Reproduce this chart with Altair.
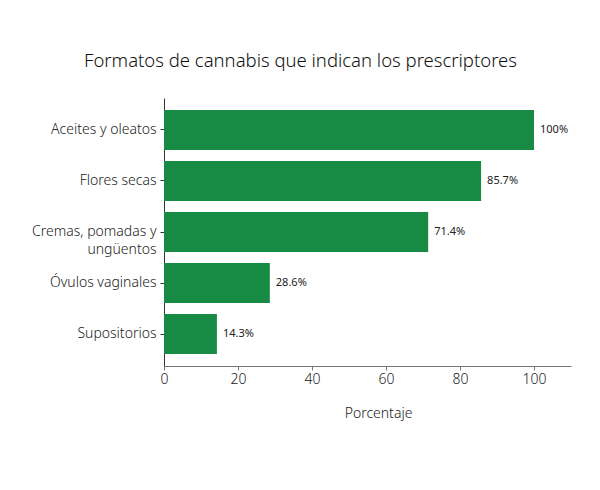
import altair as alt
import pandas as pd

categories = ["Aceites y oleatos", "Flores secas", "Cremas, pomadas y|ungüentos", "Óvulos vaginales", "Supositorios"]
values = [100, 85.7, 71.4, 28.6, 14.3]
labels = ["100%", "85.7%", "71.4%", "28.6%", "14.3%"]

df = pd.DataFrame({"cat": categories, "val": values, "lab": labels})

FONT = "Noto Sans"

y_enc = alt.Y("cat:N", sort=categories, title=None,
              scale=alt.Scale(paddingInner=0.216, paddingOuter=0.235),
              axis=alt.Axis(labelExpr="split(datum.value, '|')", labelFontSize=14,
                            labelColor="#222", labelFont=FONT, labelFontWeight=300,
                            labelLineHeight=18, domainColor="#333", tickColor="#333",
                            tickSize=4, labelPadding=4, grid=False))
x_enc = alt.X("val:Q", title="Porcentaje",
              scale=alt.Scale(domain=[0, 110], nice=False),
              axis=alt.Axis(values=[0, 20, 40, 60, 80, 100], labelFontSize=14,
                            labelColor="#222", labelFont=FONT, labelFontWeight=300,
                            labelFlush=False,
                            titleFont=FONT, titleFontSize=14, titleFontWeight=300,
                            titleColor="#222", titlePadding=20, titleX=214,
                            domainColor="#777", tickColor="#777", tickSize=4, grid=False))

bars = alt.Chart(df).mark_bar(color="#178a44").encode(x=x_enc, y=y_enc)
text = alt.Chart(df).mark_text(align="left", dx=6, fontSize=11, font=FONT, color="#222").encode(
    x="val:Q", y=alt.Y("cat:N", sort=categories), text="lab:N")

chart = (bars + text).properties(
    width=407, height=268,
    background="white",
    title=alt.TitleParams("Formatos de cannabis que indican los prescriptores",
                          font=FONT, fontSize=18.5, fontWeight=300, color="#111",
                          anchor="middle", dx=-67, offset=28),
    autosize=alt.AutoSizeParams(type="none"),
    padding={"left": 164, "top": 98, "right": 29, "bottom": 124},
).configure_view(strokeWidth=0, stroke="transparent")

chart.save("out.html", embed_options={"renderer": "svg", "actions": False})
